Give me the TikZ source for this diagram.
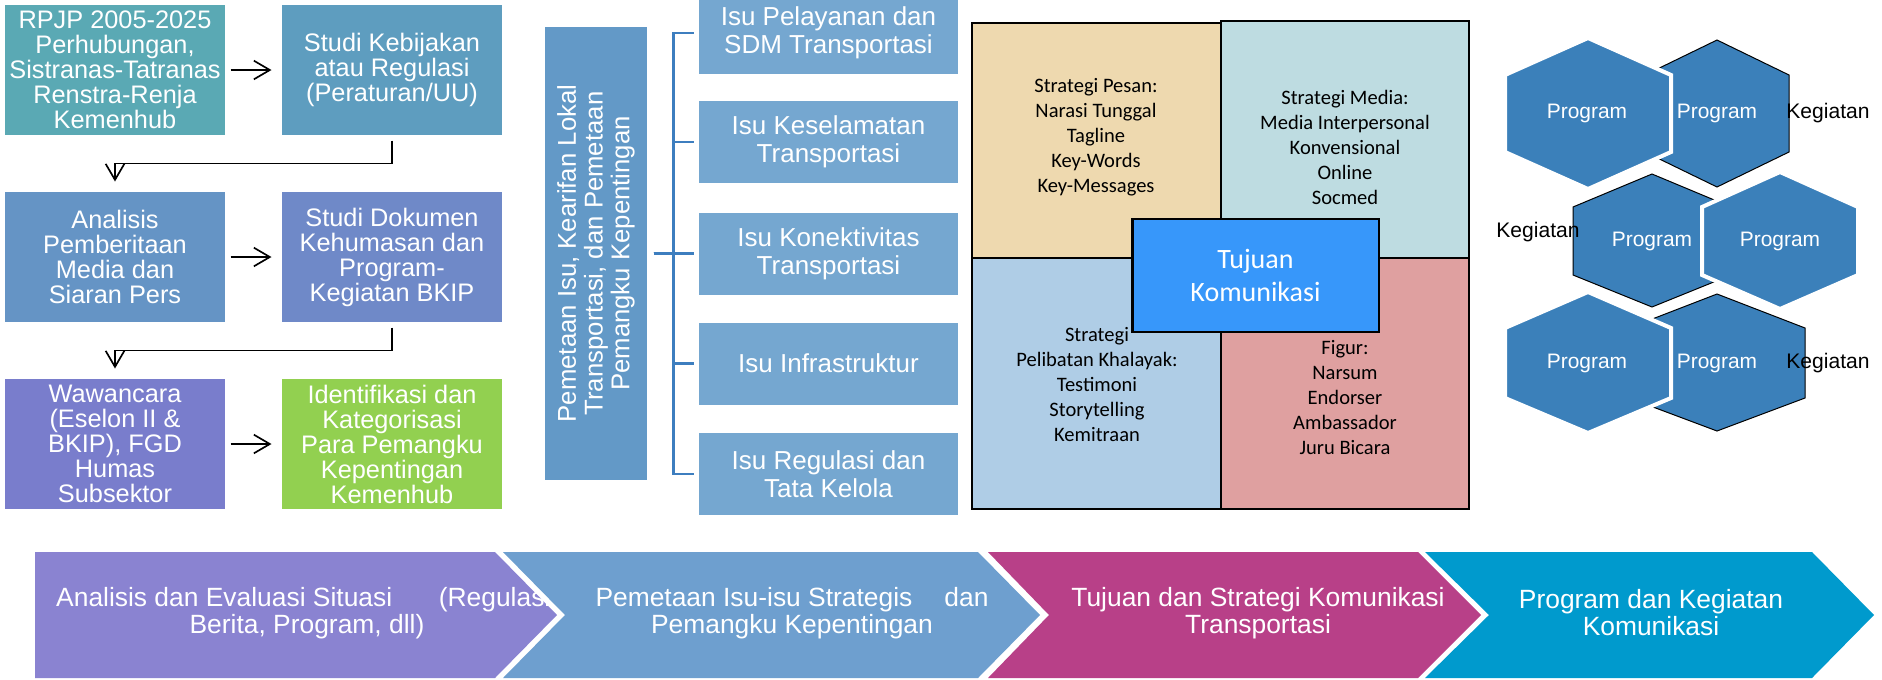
\documentclass[tikz,border=0pt]{standalone}
\usepackage{fontspec}
\setmainfont{Liberation Sans}
\newfontfamily\calibri{Carlito}
\usetikzlibrary{arrows.meta}

\tikzset{
	kotak/.style={inner sep=0pt, minimum width=165pt, minimum height=97.5pt, text=white, align=center, font=\fontsize{19}{18.75}\selectfont},
	isu/.style={fill={rgb, 255:red, 117; green, 167; blue, 208 }, inner sep=0pt, minimum width=194pt, minimum height=61.5pt, text=white, align=center, font=\fontsize{19.5}{21}\selectfont},
	panah/.style={-{Straight Barb[length=12pt,width=14pt]}, line width=1.25pt, shorten <=3.75pt, shorten >=7.5pt},
	kurung/.style={draw={rgb, 255:red, 61; green, 126; blue, 191 }, line width=2pt, shorten <=4.5pt, shorten >=3.75pt},
	kuadran/.style={draw=black, line width=2pt},
	isikuadran/.style={align=center, font=\calibri\fontsize{15.4}{18.75}\selectfont},
	heks/.style={fill={rgb, 255:red, 59; green, 128; blue, 186 }},
	heksdepan/.style={heks, draw=white, line width=3pt, line join=miter},
	prog/.style={text=white, font=\fontsize{15.7}{18}\selectfont},
	keg/.style={font=\fontsize{15.8}{18}\selectfont},
	tahap/.style={text=white, align=center, font=\fontsize{19.8}{20.25}\selectfont}}
\tikzset{every picture/.style={line width=0.75pt}}

\begin{document}
\begin{tikzpicture}[x=0.75pt,y=0.75pt,yscale=-1,xscale=1]
	\useasboundingbox (0,0) rectangle (1882,679);

	% Text Node
	\node[kotak, fill={rgb, 255:red, 90; green, 169; blue, 180 }] (rpjp) at (115,70) {RPJP 2005-2025\\Perhubungan,\\Sistranas-Tatranas\\Renstra-Renja\\Kemenhub};
	% Text Node
	\node[kotak, fill={rgb, 255:red, 94; green, 157; blue, 191 }] (kebijakan) at (392,70) {Studi Kebijakan\\atau Regulasi\\(Peraturan/UU)};
	% Text Node
	\node[kotak, fill={rgb, 255:red, 101; green, 148; blue, 197 }] (analisis) at (115,257) {Analisis\\Pemberitaan\\Media dan\\Siaran Pers};
	% Text Node
	\node[kotak, fill={rgb, 255:red, 111; green, 137; blue, 200 }] (dokumen) at (392,257) {Studi Dokumen\\Kehumasan dan\\Program-\\Kegiatan BKIP};
	% Text Node
	\node[kotak, fill={rgb, 255:red, 121; green, 125; blue, 204 }] (wawancara) at (115,444) {Wawancara\\(Eselon II \&\\BKIP), FGD\\Humas\\Subsektor};
	% Text Node
	\node[kotak, fill={rgb, 255:red, 146; green, 208; blue, 80 }] (identifikasi) at (392,444) {Identifikasi dan\\Kategorisasi\\Para Pemangku\\Kepentingan\\Kemenhub};

	%Straight Lines
	\draw[panah] (rpjp) -- (kebijakan);
	\draw[panah] (analisis) -- (dokumen);
	\draw[panah] (wawancara) -- (identifikasi);
	\draw[panah] (kebijakan.south) -- ++(0,28) -| (analisis.north);
	\draw[panah] (dokumen.south) -- ++(0,28) -| (wawancara.north);

	%Shape: Rectangle
	\node[fill={rgb, 255:red, 99; green, 153; blue, 199 }, inner sep=0pt, minimum width=76.5pt, minimum height=339.75pt] (peta) at (596,253.5) {};
	% Text Node
	\node[rotate=90, text=white, align=center, font=\fontsize{19.3}{20}\selectfont] (petateks) at (peta.center) {Pemetaan Isu, Kearifan Lokal\\Transportasi, dan Pemetaan\\Pemangku Kepentingan};

	% Text Node
	\node[isu] (isu1) at (828.5,33) {Isu Pelayanan dan\\SDM Transportasi};
	\node[isu] (isu2) at (828.5,142) {Isu Keselamatan\\Transportasi};
	\node[isu] (isu3) at (828.5,253.5) {Isu Konektivitas\\Transportasi};
	\node[isu] (isu4) at (828.5,363.5) {Isu Infrastruktur};
	\node[isu] (isu5) at (828.5,474) {Isu Regulasi dan\\Tata Kelola};

	%Straight Lines
	\draw[kurung] (peta.east) -- ++(26,0) |- (isu1.west);
	\draw[kurung] (peta.east) -- ++(26,0) |- (isu2.west);
	\draw[kurung] (peta.east) -- ++(26,0) |- (isu3.west);
	\draw[kurung] (peta.east) -- ++(26,0) |- (isu4.west);
	\draw[kurung] (peta.east) -- ++(26,0) |- (isu5.west);

	%Shape: Rectangle
	\draw[kuadran, fill={rgb, 255:red, 238; green, 217; blue, 175 }] (972,23) rectangle (1221,258);
	\draw[kuadran, fill={rgb, 255:red, 190; green, 220; blue, 225 }] (1221,21) rectangle (1469,258);
	\draw[kuadran, fill={rgb, 255:red, 175; green, 205; blue, 230 }] (972,258) rectangle (1221,509);
	\draw[kuadran, fill={rgb, 255:red, 223; green, 160; blue, 160 }] (1221,258) rectangle (1469,509);
	% Text Node
	\node[isikuadran] (pesan) at (1096,137) {Strategi Pesan:\\Narasi Tunggal\\Tagline\\Key-Words\\Key-Messages};
	\node[isikuadran] (media) at (1345,147) {Strategi Media:\\Media Interpersonal\\Konvensional\\Online\\Socmed};
	\node[isikuadran] (khalayak) at (1097,385) {Strategi\\Pelibatan Khalayak:\\Testimoni\\Storytelling\\Kemitraan};
	\node[isikuadran] (figur) at (1345,398) {Figur:\\Narsum\\Endorser\\Ambassador\\Juru Bicara};
	% Text Node
	\node[kuadran, fill={rgb, 255:red, 55; green, 151; blue, 250 }, minimum width=185pt, minimum height=84.75pt, text=white, align=center, font=\calibri\fontsize{21}{24.75}\selectfont] (tujuan) at (1255.5,275.5) {Tujuan\\Komunikasi};

	%Shape: Polygon
	\draw[heks] (1645,75) -- (1717,40) -- (1789,75) -- (1789,152) -- (1717,187) -- (1645,152) -- cycle;
	\draw[heksdepan] (1505,75) -- (1588,38) -- (1671,75) -- (1671,152) -- (1588,189) -- (1505,152) -- cycle;
	\draw[heks] (1573,207) -- (1652,174) -- (1731,207) -- (1731,275) -- (1652,307) -- (1573,275) -- cycle;
	\draw[heksdepan] (1702,207) -- (1780,172) -- (1858,207) -- (1858,275) -- (1780,309) -- (1702,275) -- cycle;
	\draw[heks] (1629,328) -- (1717,294) -- (1805,328) -- (1805,398) -- (1717,431) -- (1629,398) -- cycle;
	\draw[heksdepan] (1505,328) -- (1588,292) -- (1671,328) -- (1671,398) -- (1588,433) -- (1505,398) -- cycle;
	% Text Node
	\node[prog] (prog1) at (1587,113) {Program};
	\node[prog] (prog2) at (1717,113) {Program};
	\node[prog] (prog3) at (1652,241) {Program};
	\node[prog] (prog4) at (1780,241) {Program};
	\node[prog] (prog5) at (1587,363) {Program};
	\node[prog] (prog6) at (1717,363) {Program};
	\node[keg] (keg1) at (1828,113) {Kegiatan};
	\node[keg] (keg2) at (1538,232) {Kegiatan};
	\node[keg] (keg3) at (1828,363) {Kegiatan};

	%Shape: Chevron
	\draw[draw=none, fill={rgb, 255:red, 138; green, 131; blue, 209 }] (35,552) -- (495,552) -- (557,615) -- (495,678) -- (35,678) -- cycle;
	\node[tahap] (tahap1) at (307,613) {Analisis dan Evaluasi Situasi\hspace{35pt}(Regulasi,\\Berita, Program, dll)};
	\draw[draw=none, fill={rgb, 255:red, 110; green, 159; blue, 207 }] (503,552) -- (978,552) -- (1040,615) -- (978,678) -- (503,678) -- (565,615) -- cycle;
	\node[tahap] (tahap2) at (792,613) {Pemetaan Isu-isu Strategis\hspace{24pt}dan\\Pemangku Kepentingan};
	\draw[draw=none, fill={rgb, 255:red, 184; green, 64; blue, 136 }] (988,552) -- (1418,552) -- (1481,615) -- (1418,678) -- (988,678) -- (1049,615) -- cycle;
	\node[tahap] (tahap3) at (1258,613) {Tujuan dan Strategi Komunikasi\\Transportasi};
	\draw[draw=none, fill={rgb, 255:red, 0; green, 154; blue, 205 }] (1425,552) -- (1812,552) -- (1874,615) -- (1812,678) -- (1425,678) -- (1489,615) -- cycle;
	\node[tahap] (tahap4) at (1651,613) {Program dan Kegiatan\\Komunikasi};

\end{tikzpicture}
\end{document}
